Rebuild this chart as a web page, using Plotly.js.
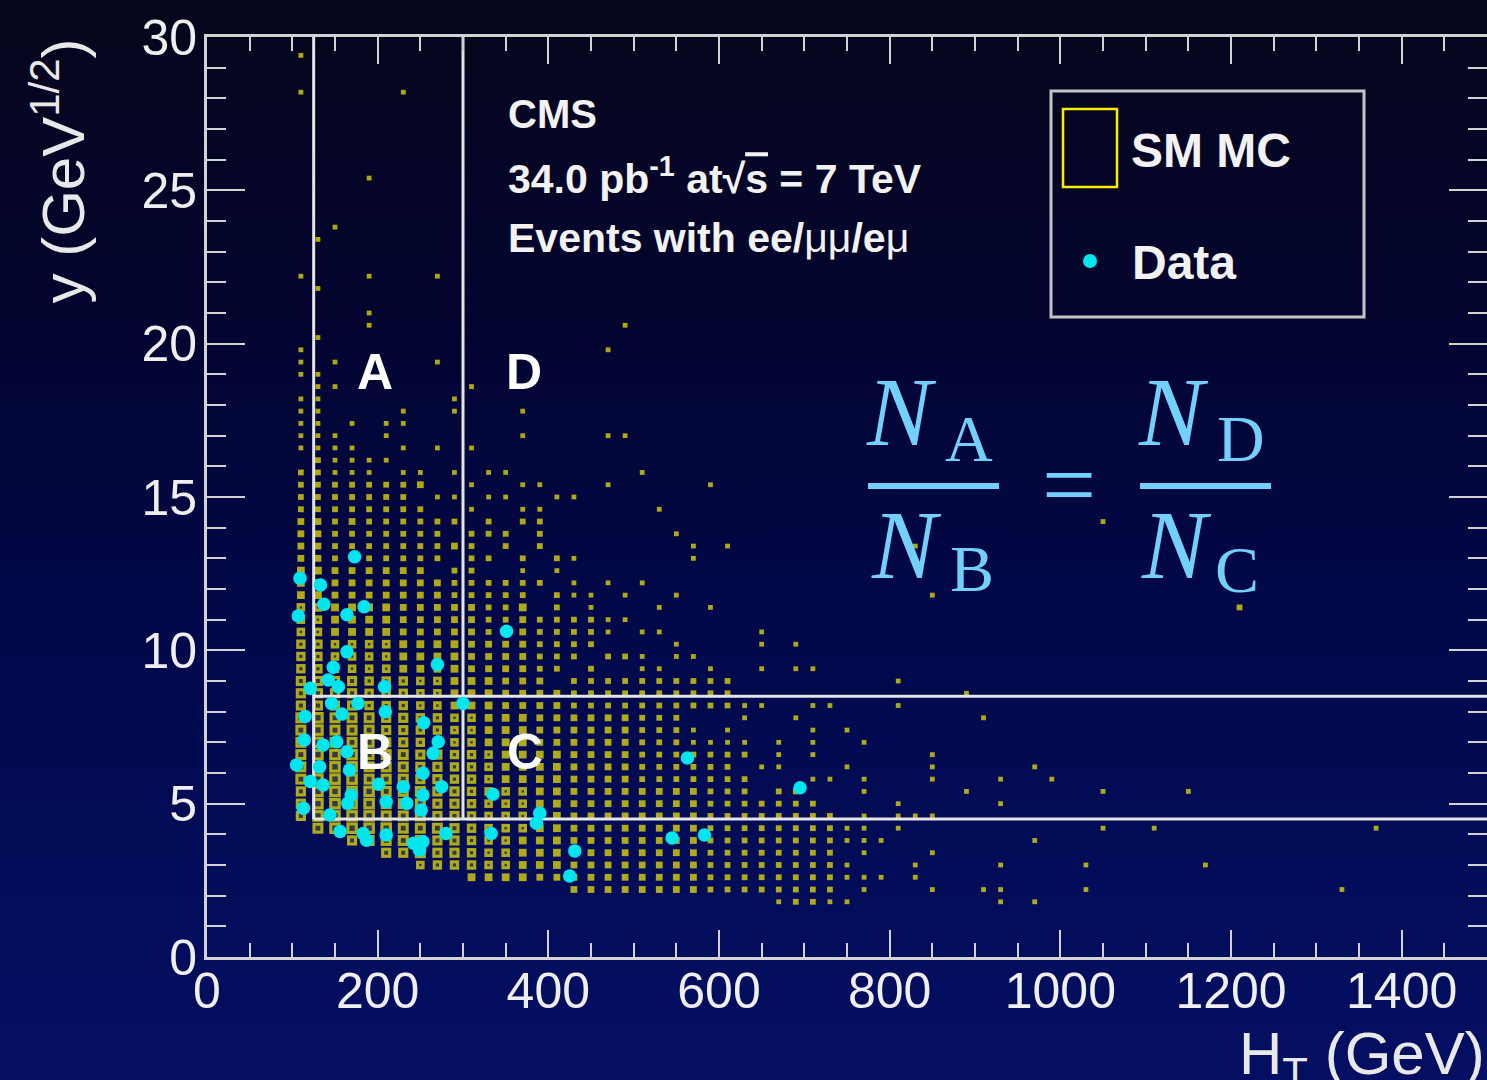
<!DOCTYPE html>
<html>
<head>
<meta charset="utf-8">
<script src="https://cdn.plot.ly/plotly-3.0.1.min.js"></script>
<style>
  html, body {
    margin: 0; padding: 0; width: 1487px; height: 1080px; overflow: hidden;
    background: linear-gradient(to bottom, #06061c 0%, #030530 30%, #020848 55%, #020c58 80%, #040f62 100%);
  }
  #chart { width: 1487px; height: 1080px; }
</style>
</head>
<body>
<div id="chart"></div>
<script>
// Binning of the SM MC histogram
const htBinWidth = 20;    // GeV
const yBinWidth = 0.4;    // GeV^1/2

// SM MC box histogram, dense part: [y bin, first HT bin, relative content per HT bin ('.' = empty)]
const mcRows = [
  [4, 33, "12211"],
  [5, 21, "3333333322222222"],
  [6, 15, "4444333333333322222222111"],
  [7, 12, "56665544433333333222222221"],
  [8, 10, "778776554443333333322222222"],
  [9, 8, "78888776554443333333322222222111"],
  [10, 6, "899998887655544333333332222222211.1"],
  [11, 5, "79999888776555443333333322222222.1.111"],
  [12, 5, "7999988877655544333333332222222"],
  [13, 5, "799998887765554433333333222.22"],
  [14, 5, "899988877665444433332222222"],
  [15, 5, "89998887766544443333222222"],
  [16, 5, "899988877665444433332222222"],
  [17, 5, "898887766554443333332221111"],
  [18, 5, "898887766554443333332221"],
  [19, 5, "89888776655444333333222"],
  [20, 5, "7777666554443333222222222211"],
  [21, 5, "77776665544433332222222222"],
  [22, 5, "777766655444333.2222222222"],
  [23, 5, "6655554444333322.2..11..1..1.11"],
  [24, 5, "66555544443333222.221.11"],
  [25, 5, "665555444433332222"],
  [26, 5, "5544443333322322221.11"],
  [27, 5, "55444433333223222211"],
  [28, 5, "55444433333224.2.1"],
  [29, 5, "44333333322222.211.1"],
  [30, 5, "443333333222222.1.1.1"],
  [31, 5, "44333333.22..1.1"],
  [32, 5, "332222222.22.2.21"],
  [33, 5, "33222222232.2.2"],
  [34, 5, "332222222.222.2"],
  [35, 5, "3323222222.2.22"],
  [36, 5, "22222222..1..11"],
  [37, 5, "2222222.11.11..11"],
  [38, 5, "22222223..1..11"],
  [39, 5, "22111.11.1.11"],
  [40, 6, "21111"],
  [41, 5, "1111..1.1.1"],
  [42, 5, "111..1"],
  [43, 5, "11.1.11"],
  [44, 5, "11....1..1...1"],
  [45, 5, "11"],
  [46, 6, "11"],
  [47, 5, "11"],
  [48, 5, "1.1"]
];

// SM MC box histogram, isolated bins: [HT bin, y bin, relative content]
const mcIsolated = [
  [46, 4, 1], [48, 4, 1],
  [38, 5, 1], [42, 5, 1], [45, 5, 1], [46, 5, 1], [51, 5, 1], [66, 5, 1],
  [41, 6, 1],
  [41, 7, 1], [46, 7, 1], [51, 7, 1], [58, 7, 1],
  [38, 8, 1], [42, 8, 1],
  [48, 9, 1],
  [52, 10, 1], [55, 10, 1], [68, 10, 1],
  [40, 12, 1], [46, 12, 1],
  [38, 13, 1], [44, 13, 1], [52, 13, 1], [57, 13, 1],
  [35, 14, 1], [36, 14, 1], [38, 14, 1], [42, 14, 1], [46, 14, 1], [49, 14, 1],
  [32, 15, 1], [33, 15, 1], [37, 15, 1], [42, 15, 1], [48, 15, 1],
  [33, 16, 1], [35, 16, 1], [42, 16, 1],
  [33, 17, 1], [35, 17, 1], [38, 17, 1],
  [30, 18, 1], [35, 18, 1], [37, 18, 1],
  [31, 19, 1], [34, 19, 1], [45, 19, 1],
  [35, 20, 1], [36, 20, 1], [40, 20, 1],
  [44, 21, 1], [40, 22, 1],
  [27, 25, 1], [32, 25, 1], [34, 25, 1],
  [32, 26, 1],
  [26, 28, 1], [29, 28, 1], [60, 28, 2],
  [27, 29, 1], [42, 29, 1],
  [28, 32, 1],
  [28, 33, 1], [30, 33, 1], [41, 33, 1],
  [27, 34, 1], [52, 35, 1], [26, 36, 1],
  [23, 38, 1], [29, 38, 1], [25, 39, 1],
  [18, 42, 1], [23, 42, 1], [24, 42, 1],
  [14, 45, 1], [15, 46, 1], [13, 48, 1],
  [5, 49, 1], [23, 49, 1], [6, 50, 1],
  [9, 51, 1], [24, 51, 1], [9, 52, 1], [6, 54, 1],
  [5, 55, 1], [9, 55, 1], [13, 55, 1],
  [6, 58, 1], [7, 59, 1], [9, 63, 1],
  [5, 70, 1], [11, 70, 1], [5, 73, 1]
];

// Data events
const dataHT = [173, 109, 133, 137, 107, 164, 184, 164, 270, 148,
                142, 121, 154, 208, 146, 177, 300, 209, 115, 158,
                254, 114, 152, 136, 271, 265, 164, 105, 132, 167,
                253, 136, 121, 201, 230, 275, 169, 253, 113, 165,
                210, 234, 144, 251, 335, 390, 386, 156, 183, 187,
                210, 242, 253, 280, 333, 249, 431, 425, 545, 583,
                563, 695, 351];
const dataY = [13.05, 12.35, 12.13, 11.50, 11.12, 11.16, 11.42, 9.95, 9.54, 9.45,
               9.03, 8.76, 8.81, 8.81, 8.27, 8.27, 8.27, 8.00, 7.84, 7.92,
               7.64, 7.08, 7.02, 6.91, 7.02, 6.64, 6.69, 6.26, 6.20, 6.10,
               5.99, 5.61, 5.72, 5.63, 5.55, 5.55, 5.28, 5.28, 4.85, 5.01,
               5.06, 5.01, 4.63, 4.79, 5.31, 4.69, 4.36, 4.09, 4.03, 3.81,
               3.98, 3.71, 3.76, 4.03, 4.03, 3.49, 3.46, 2.64, 3.88, 3.98,
               6.49, 5.52, 10.62];

// ABCD region boundaries
const htCuts = [125, 300];   // GeV
const yCuts = [4.5, 8.5];    // GeV^1/2

// Axis ranges
const htRange = [0, 1500];
const yRange = [0, 30];

// ---- build the box histogram points ----
const mcX = [], mcY = [], mcLevel = [];
mcRows.forEach(([j, start, levels]) => {
  [...levels].forEach((c, k) => {
    if (c === '.') return;
    mcX.push((start + k + 0.5) * htBinWidth);
    mcY.push((j + 0.5) * yBinWidth);
    mcLevel.push(Number(c));
  });
});
mcIsolated.forEach(([i, j, lv]) => {
  mcX.push((i + 0.5) * htBinWidth);
  mcY.push((j + 0.5) * yBinWidth);
  mcLevel.push(lv);
});

// pixel geometry of the plot area (1280 x 920 at 207,37)
const L = 207, T = 37, W = 1280, H = 920;
const px = v => (v - L) / W;
const py = v => (T + H - v) / H;

// box outer side per content level, and the inner hole of the large (hollow) boxes
const boxSide = [0, 4.8, 5.8, 6.8, 7.8, 8.6, 9.4, 10.2, 11.0, 11.6];
const boxHole = [0, 0, 0, 0, 0, 2.4, 3.2, 4.0, 4.8, 5.4];

const yellow = '#f8ee00';
const cyan = '#00e6ee';
const frame = '#d2d2d2';
const formulaBlue = '#72d0fb';

// page background colour at a given pixel row (same stops as the CSS gradient)
const bgStops = [[0, [6, 6, 28]], [0.30, [3, 5, 48]], [0.55, [2, 8, 72]], [0.80, [2, 12, 88]], [1, [4, 15, 98]]];
function bgAt(pixY) {
  const f = pixY / 1080;
  for (let k = 1; k < bgStops.length; k++) {
    if (f <= bgStops[k][0]) {
      const [f0, c0] = bgStops[k - 1], [f1, c1] = bgStops[k];
      const t = (f - f0) / (f1 - f0);
      const c = c0.map((v, n) => Math.round(v + (c1[n] - v) * t));
      return `rgb(${c[0]},${c[1]},${c[2]})`;
    }
  }
  return 'rgb(4,15,98)';
}

const mcTrace = {
  type: 'scatter', mode: 'markers', x: mcX, y: mcY,
  marker: { symbol: 'square', color: yellow, size: mcLevel.map(l => boxSide[l]), line: { width: 0 } },
  hoverinfo: 'skip', showlegend: false
};

// hollow centres of the large boxes
const holeIdx = mcLevel.map((l, k) => k).filter(k => boxHole[mcLevel[k]] > 0);
const holeTrace = {
  type: 'scatter', mode: 'markers',
  x: holeIdx.map(k => mcX[k]), y: holeIdx.map(k => mcY[k]),
  marker: {
    symbol: 'square', size: holeIdx.map(k => boxHole[mcLevel[k]]), line: { width: 0 },
    color: holeIdx.map(k => bgAt(T + H * (1 - mcY[k] / yRange[1])))
  },
  hoverinfo: 'skip', showlegend: false
};

// region boundary lines
const cutX = [htCuts[0], htCuts[0], null, htCuts[1], htCuts[1], null,
              htCuts[0], htRange[1], null, htCuts[0], htRange[1]];
const cutY = [yCuts[0], yRange[1], null, yCuts[0], yRange[1], null,
              yCuts[1], yCuts[1], null, yCuts[0], yCuts[0]];
const cutTrace = {
  type: 'scatter', mode: 'lines', x: cutX, y: cutY,
  line: { color: '#e4e4e4', width: 3 }, hoverinfo: 'skip', showlegend: false
};

const dataTrace = {
  type: 'scatter', mode: 'markers', x: dataHT, y: dataY,
  marker: { symbol: 'circle', size: 13.5, color: cyan, line: { width: 0 } },
  hoverinfo: 'skip', showlegend: false
};

const sans = 'Liberation Sans, Arial, Helvetica, sans-serif';
const serif = 'Liberation Serif, Times New Roman, serif';

function txt(text, x, y, opts) {
  return Object.assign({
    xref: 'paper', yref: 'paper', x: px(x), y: py(y), text: text,
    showarrow: false, xanchor: 'left', yanchor: 'middle',
    font: { family: sans, size: 41, color: '#f2f2f2' }
  }, opts || {});
}

const annotations = [
  // axis titles
  txt('y (GeV<sup>1/2</sup>)', 58, 37, { xanchor: 'center', yanchor: 'top', textangle: -90,
      font: { family: sans, size: 60, color: '#e8e8e8' } }),
  txt('H<sub>T</sub> (GeV)', 1487, 1018, { xanchor: 'right', yanchor: 'top',
      font: { family: sans, size: 60, color: '#e8e8e8' } }),
  // experiment labels
  txt('<b>CMS</b>', 506, 114, { font: { family: sans, size: 40, color: '#f2f2f2' } }),
  txt('<b>34.0 pb<sup>-1</sup> at√<span style="text-decoration:overline">s</span> = 7 TeV</b>', 506, 176),
  txt('<b>Events with ee/</b><span style="font-weight:normal">μμ</span><b>/e</b><span style="font-weight:normal">μ</span>', 506, 238),
  // region labels
  txt('<b>A</b>', 375, 372, { xanchor: 'center', font: { family: sans, size: 50, color: '#ffffff' } }),
  txt('<b>D</b>', 524, 372, { xanchor: 'center', font: { family: sans, size: 50, color: '#ffffff' } }),
  txt('<b>B</b>', 375, 752, { xanchor: 'center', font: { family: sans, size: 50, color: '#ffffff' } }),
  txt('<b>C</b>', 525, 752, { xanchor: 'center', font: { family: sans, size: 50, color: '#ffffff' } }),
  // legend entries
  txt('<b>SM MC</b>', 1129, 150, { font: { family: sans, size: 48, color: '#f2f2f2' } }),
  txt('<b>Data</b>', 1130, 262, { font: { family: sans, size: 48, color: '#f2f2f2' } }),
  // ABCD relation
  txt('<i>N</i>', 864, 412, { font: { family: serif, size: 97, color: formulaBlue } }),
  txt('A', 943, 438, { font: { family: serif, size: 66, color: formulaBlue } }),
  txt('<i>N</i>', 869, 545, { font: { family: serif, size: 97, color: formulaBlue } }),
  txt('B', 948, 568, { font: { family: serif, size: 66, color: formulaBlue } }),
  txt('=', 1069, 484, { xanchor: 'center', font: { family: serif, size: 96, color: formulaBlue } }),
  txt('<i>N</i>', 1136, 412, { font: { family: serif, size: 97, color: formulaBlue } }),
  txt('D', 1215, 438, { font: { family: serif, size: 66, color: formulaBlue } }),
  txt('<i>N</i>', 1139, 545, { font: { family: serif, size: 97, color: formulaBlue } }),
  txt('C', 1213, 570, { font: { family: serif, size: 66, color: formulaBlue } })
];

const shapes = [
  // legend frame and symbols
  { type: 'rect', xref: 'paper', yref: 'paper', x0: px(1051), x1: px(1364), y0: py(317), y1: py(91),
    line: { color: '#c4c4c4', width: 3 }, fillcolor: 'rgba(0,0,0,0)' },
  { type: 'rect', xref: 'paper', yref: 'paper', x0: px(1063), x1: px(1117), y0: py(187), y1: py(109),
    line: { color: yellow, width: 2.5 }, fillcolor: 'rgba(0,0,0,0)' },
  { type: 'circle', xref: 'paper', yref: 'paper', x0: px(1083), x1: px(1097), y0: py(268), y1: py(254),
    line: { width: 0 }, fillcolor: cyan },
  // fraction bars
  { type: 'line', xref: 'paper', yref: 'paper', x0: px(868), x1: px(999), y0: py(486), y1: py(486),
    line: { color: formulaBlue, width: 6 } },
  { type: 'line', xref: 'paper', yref: 'paper', x0: px(1140), x1: px(1271), y0: py(486), y1: py(486),
    line: { color: formulaBlue, width: 6 } }
];

const axisCommon = {
  showline: true, linecolor: frame, linewidth: 3, mirror: 'ticks',
  ticks: 'inside', tickcolor: frame, tickwidth: 2,
  showgrid: false, zeroline: false, fixedrange: true,
  tickfont: { family: sans, size: 50, color: '#efefef' }
};

const layout = {
  width: 1487, height: 1080,
  margin: { l: L, r: 0, t: T, b: 1080 - T - H, pad: 0 },
  paper_bgcolor: 'rgba(0,0,0,0)', plot_bgcolor: 'rgba(0,0,0,0)',
  showlegend: false,
  xaxis: Object.assign({}, axisCommon, {
    range: htRange, tick0: 0, dtick: 200, ticklen: 27, ticklabelstandoff: -12,
    minor: { dtick: 50, ticklen: 14, tickwidth: 2, tickcolor: frame, ticks: 'inside', showgrid: false }
  }),
  yaxis: Object.assign({}, axisCommon, {
    range: yRange, tick0: 0, dtick: 5, ticklen: 38, ticklabelstandoff: -3,
    minor: { dtick: 1, ticklen: 19, tickwidth: 2, tickcolor: frame, ticks: 'inside', showgrid: false }
  }),
  annotations: annotations,
  shapes: shapes
};

Plotly.newPlot('chart', [mcTrace, holeTrace, cutTrace, dataTrace], layout, { staticPlot: true, displayModeBar: false });
</script>
</body>
</html>
